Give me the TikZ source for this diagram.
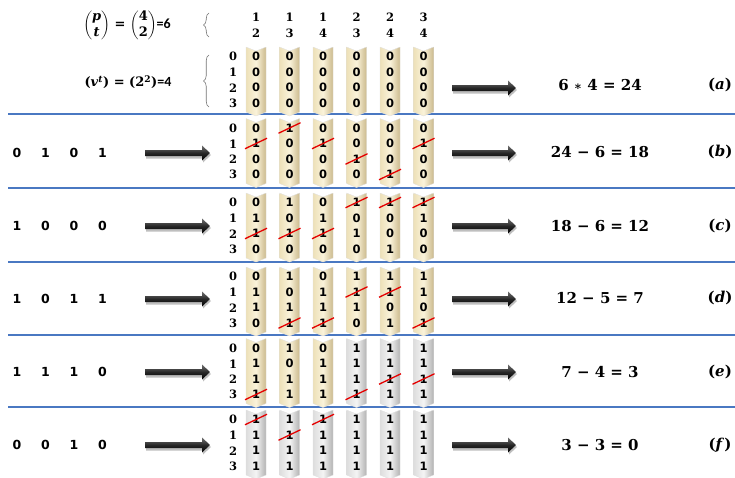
\documentclass[tikz,border=0pt]{standalone}
\usepackage{amsmath}
\usepackage{fontspec}
\newfontfamily\dvs{DejaVu Sans}
\newfontfamily\dvr{DejaVu Serif}
\newfontfamily\carl{Carlito}
\usetikzlibrary{calc,decorations.pathreplacing}
\definecolor{hblue}{HTML}{4A78C2}
\definecolor{yL}{HTML}{EDE0B8}
\definecolor{yM}{HTML}{FAF3DA}
\definecolor{yR}{HTML}{CBB98C}
\definecolor{gL}{HTML}{DDDDDD}
\definecolor{gM}{HTML}{F4F4F4}
\definecolor{gR}{HTML}{B2B2B2}
\tikzset{
 cd/.style={font=\dvs\bfseries\fontsize{11.5}{13}\selectfont, inner sep=0pt},
 rl/.style={font=\dvr\bfseries\fontsize{11.5}{14}\selectfont, inner sep=0pt},
 ld/.style={font=\dvs\bfseries\fontsize{12.5}{14}\selectfont, inner sep=0pt},
 res/.style={font=\dvr\bfseries\fontsize{15}{18}\selectfont, inner sep=0pt},
 lab/.style={font=\dvr\bfseries\fontsize{15}{18}\selectfont, inner sep=0pt},
 hd/.style={font=\dvr\bfseries\fontsize{11.5}{14}\selectfont, inner sep=0pt},
 frm/.style={font=\dvr\bfseries\fontsize{13}{15}\selectfont, inner sep=0pt},
 strike/.style={draw=red!90!black, line width=1.3pt},
 ybar/.style={left color=yL, right color=yR, middle color=yM, draw=black!12, line width=0.3pt},
 gbar/.style={left color=gL, right color=gR, middle color=gM, draw=black!12, line width=0.3pt},
 sep/.style={draw=hblue, line width=1.4pt},
 arrowshadow/.style={fill=black!25},
 arrowbody/.style={top color=black!55, bottom color=black, middle color=black!85},
 bracestyle/.style={draw=black!55, line width=0.6pt, decorate, decoration={brace, amplitude=5.5pt}},
}
\newcommand\cell[4]{%
 \ifnum#4=2\relax
   \node[cd] (#1) at (#2,#3) {1};
   \draw[strike] ($(#1)+(-11,5)$) -- ($(#1)+(11,-5.5)$);
 \else
   \node[cd] (#1) at (#2,#3) {#4};
 \fi}
\newcommand\colbar[8]{%
 \pgfmathsetmacro\cx{256+33.5*(#2-1)}%
 \pgfmathsetmacro\ct{#3-33}%
 \pgfmathsetmacro\cb{#3+32}%
 \path[#4] (\cx-10,\ct) -- (\cx,\ct+4) -- (\cx+10,\ct) -- (\cx+10,\cb) -- (\cx,\cb+4) -- (\cx-10,\cb) -- cycle;
 \cell{#1-#2-0}{\cx}{#3-23.25}{#5}
 \cell{#1-#2-1}{\cx}{#3-7.75}{#6}
 \cell{#1-#2-2}{\cx}{#3+7.75}{#7}
 \cell{#1-#2-3}{\cx}{#3+23.25}{#8}
}
\newcommand\rowlabels[2]{%
 \foreach \k in {0,...,3} {\node[rl] (#1-l\k) at (233,#2-23.25+15.5*\k) {\k};}}
\newcommand\leftdigits[6]{%
 \node[ld] (#1-d1) at (17,#2) {#3};
 \node[ld] (#1-d2) at (45.5,#2) {#4};
 \node[ld] (#1-d3) at (74,#2) {#5};
 \node[ld] (#1-d4) at (102.5,#2) {#6};}
\newcommand\bigarrow[2]{%
 \fill[arrowshadow] ($(#1)+(1,-1.5)$) -- ($(#2)+(-7,-1.5)$) -- ($(#2)+(-7,-5.5)$) -- ($(#2)+(1,2)$) -- ($(#2)+(-7,9.5)$) -- ($(#2)+(-7,5.5)$) -- ($(#1)+(1,5.5)$) -- cycle;
 \path[arrowbody] ($(#1)+(0,-3)$) -- ($(#2)+(-8,-3)$) -- ($(#2)+(-8,-7.5)$) -- (#2) -- ($(#2)+(-8,7.5)$) -- ($(#2)+(-8,3)$) -- ($(#1)+(0,3)$) -- cycle;}
\newcommand\arrows[2]{%
 \coordinate (#1-ls) at (145,#2);
 \coordinate (#1-le) at (210,#2);
 \coordinate (#1-rs) at (452,#2);
 \coordinate (#1-re) at (516,#2);
 \bigarrow{#1-ls}{#1-le}
 \bigarrow{#1-rs}{#1-re}}
\newcommand\lab[1]{(\textit{#1})}
\begin{document}
\begin{tikzpicture}[x=1pt,y=-1pt]
\useasboundingbox (0,0) rectangle (735,477);
% separators
\foreach \i/\yy in {1/114,2/188,3/262,4/335,5/407} {
  \coordinate (s\i-a) at (8,\yy);
  \coordinate (s\i-b) at (735,\yy);
  \draw[sep] (s\i-a) -- (s\i-b);
}
% header formulas
\node[frm] (f1) at (127,25) {$\dbinom{\text{\itshape p}}{\text{\itshape t}}$ = $\dbinom{\text{4}}{\text{2}}${\carl\bfseries\fontsize{14}{15}\selectfont=6}};
\node[frm] (f2) at (128,82) {(\textit{v}\textsuperscript{\textit{t}}) = (2\textsuperscript{2}){\carl\bfseries\fontsize{14}{15}\selectfont=4}};
\coordinate (b1a) at (209,37);
\coordinate (b1b) at (209,13);
\coordinate (b2a) at (209,107);
\coordinate (b2b) at (209,55);
\draw[bracestyle] (b1a) -- (b1b);
\draw[bracestyle] (b2a) -- (b2b);
% column headers
\foreach \i/\p/\q in {1/1/2,2/1/3,3/1/4,4/2/3,5/2/4,6/3/4} {
  \node[hd] (h\i a) at (256+33.5*\i-33.5,17) {\p};
  \node[hd] (h\i b) at (256+33.5*\i-33.5,33) {\q};
}
% row a
\rowlabels{a}{80}
\foreach \c in {1,...,6} {\colbar{a}{\c}{80}{ybar}{0}{0}{0}{0}}
\coordinate (a-rs) at (452,88);
\coordinate (a-re) at (516,88);
\bigarrow{a-rs}{a-re}
\node[res] (a-res) at (600,85) {6 {\fontsize{12}{14}\selectfont∗} 4 = 24};
\node[lab] (a-lab) at (720,85) {\lab{a}};
% row b
\rowlabels{b}{151.5}
\colbar{b}{1}{151.5}{ybar}{0}{2}{0}{0}
\colbar{b}{2}{151.5}{ybar}{2}{0}{0}{0}
\colbar{b}{3}{151.5}{ybar}{0}{2}{0}{0}
\colbar{b}{4}{151.5}{ybar}{0}{0}{2}{0}
\colbar{b}{5}{151.5}{ybar}{0}{0}{0}{2}
\colbar{b}{6}{151.5}{ybar}{0}{2}{0}{0}
\leftdigits{b}{153}{0}{1}{0}{1}
\arrows{b}{153}
\node[res] (b-res) at (600,152) {24 − 6 = 18};
\node[lab] (b-lab) at (720,152) {\lab{b}};
% row c
\rowlabels{c}{226}
\colbar{c}{1}{226}{ybar}{0}{1}{2}{0}
\colbar{c}{2}{226}{ybar}{1}{0}{2}{0}
\colbar{c}{3}{226}{ybar}{0}{1}{2}{0}
\colbar{c}{4}{226}{ybar}{2}{0}{1}{0}
\colbar{c}{5}{226}{ybar}{2}{0}{0}{1}
\colbar{c}{6}{226}{ybar}{2}{1}{0}{0}
\leftdigits{c}{226}{1}{0}{0}{0}
\arrows{c}{226}
\node[res] (c-res) at (600,226) {18 − 6 = 12};
\node[lab] (c-lab) at (720,226) {\lab{c}};
% row d
\rowlabels{d}{300}
\colbar{d}{1}{300}{ybar}{0}{1}{1}{0}
\colbar{d}{2}{300}{ybar}{1}{0}{1}{2}
\colbar{d}{3}{300}{ybar}{0}{1}{1}{2}
\colbar{d}{4}{300}{ybar}{1}{2}{1}{0}
\colbar{d}{5}{300}{ybar}{1}{2}{0}{1}
\colbar{d}{6}{300}{ybar}{1}{1}{0}{2}
\leftdigits{d}{299}{1}{0}{1}{1}
\arrows{d}{299}
\node[res] (d-res) at (600,298) {12 − 5 = 7};
\node[lab] (d-lab) at (720,298) {\lab{d}};
% row e
\rowlabels{e}{371.5}
\colbar{e}{1}{371.5}{ybar}{0}{1}{1}{2}
\colbar{e}{2}{371.5}{ybar}{1}{0}{1}{1}
\colbar{e}{3}{371.5}{ybar}{0}{1}{1}{1}
\colbar{e}{4}{371.5}{gbar}{1}{1}{1}{2}
\colbar{e}{5}{371.5}{gbar}{1}{1}{2}{1}
\colbar{e}{6}{371.5}{gbar}{1}{1}{2}{1}
\leftdigits{e}{372}{1}{1}{1}{0}
\arrows{e}{372}
\node[res] (e-res) at (600,372) {7 − 4 = 3};
\node[lab] (e-lab) at (720,372) {\lab{e}};
% row f
\rowlabels{f}{443}
\colbar{f}{1}{443}{gbar}{2}{1}{1}{1}
\colbar{f}{2}{443}{gbar}{1}{2}{1}{1}
\colbar{f}{3}{443}{gbar}{2}{1}{1}{1}
\colbar{f}{4}{443}{gbar}{1}{1}{1}{1}
\colbar{f}{5}{443}{gbar}{1}{1}{1}{1}
\colbar{f}{6}{443}{gbar}{1}{1}{1}{1}
\leftdigits{f}{445}{0}{0}{1}{0}
\arrows{f}{445}
\node[res] (f-res) at (600,445) {3 − 3 = 0};
\node[lab] (f-lab) at (720,445) {\lab{f}};
\end{tikzpicture}
\end{document}
